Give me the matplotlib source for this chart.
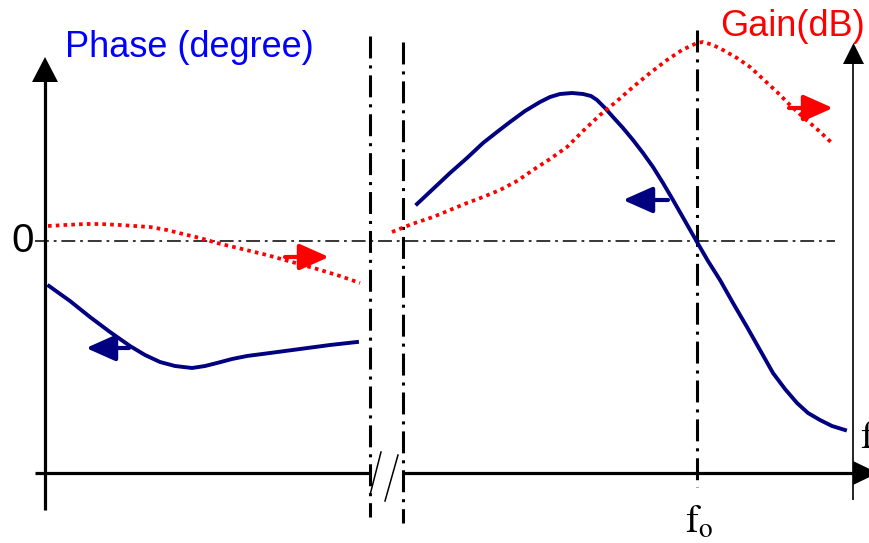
import matplotlib
matplotlib.use("Agg")
import matplotlib.pyplot as plt

plt.rcParams['lines.scale_dashes'] = False
plt.rcParams['mathtext.fontset'] = 'stix'

# pixel-like data units (x right, y down)
phase_left_x = [49, 70, 90, 110, 130, 145, 160, 175, 192, 205, 217, 232, 247,
                270, 300, 330, 357]
phase_left_y = [286, 301, 317, 332, 346, 355, 362, 366, 368, 366, 363, 359, 356,
                353, 349, 345, 342]
phase_right_x = [417, 433, 450, 467, 483, 497, 510, 525, 540, 550, 560, 572, 583,
                 591, 597, 605, 613, 623, 633, 643, 653, 663, 673, 685, 697, 708,
                 720, 733, 747, 760, 773, 785, 797, 808, 820, 832, 845]
phase_right_y = [204, 189, 173, 158, 143, 132, 122, 111, 102, 97, 94, 93, 94,
                 96, 100, 108, 117, 128, 140, 153, 167, 183, 200, 221, 242, 261,
                 280, 303, 327, 350, 373, 389, 403, 413, 420, 426, 430]
gain_left_x = [48, 65, 85, 100, 120, 150, 167, 183, 200, 217, 242, 267, 292,
               317, 340, 360]
gain_left_y = [226, 225, 224, 224, 225, 227, 230, 234, 238, 243, 249, 255, 262,
               269, 276, 283]
gain_right_x = [392, 412, 433, 450, 467, 483, 500, 517, 533, 550, 567, 583, 600,
                617, 633, 650, 667, 682, 697, 703, 713, 723, 737, 750, 763, 777,
                790, 803, 818, 833]
gain_right_y = [232, 224, 217, 210, 203, 197, 190, 181, 170, 159, 147, 131, 115,
                101, 87, 73, 60, 50, 43, 42, 45, 50, 58, 67, 79, 92,
                105, 117, 130, 144]

navy = '#000080'
red = '#ff0000'

fig = plt.figure(figsize=(8.69, 5.43), dpi=100)
ax = fig.add_axes([0, 0, 1, 1])
ax.set_xlim(0, 869)
ax.set_ylim(543, 0)
ax.axis('off')

# axes lines
ax.plot([45, 45], [510, 80], color='black', lw=2.3, solid_capstyle='butt')
ax.fill([32, 58, 45], [82, 82, 57], color='black', lw=0)
ax.plot([35, 369], [473, 473], color='black', lw=2.3, solid_capstyle='butt')
ax.plot([403, 855], [473, 473], color='black', lw=2.3, solid_capstyle='butt')
ax.fill([853, 853, 878], [461, 485, 473], color='black', lw=0)
ax.plot([853, 853], [500, 60], color='black', lw=1.2, solid_capstyle='butt')
ax.fill([843, 864, 853.5], [64, 64, 43], color='black', lw=0)

# break mark
ax.plot([381, 370], [452, 495], color='black', lw=1.1)
ax.plot([398, 385], [455, 501], color='black', lw=1.1)

# dash-dot guides
dd_thick = (0, (15.8, 5, 2.2, 5))
ax.plot([370, 370], [36, 517], color='black', lw=2.2, ls=dd_thick)
ax.plot([403, 403], [42, 523], color='black', lw=2.2, ls=dd_thick)
ax.plot([697, 697], [30, 487], color='black', lw=2.2, ls=dd_thick)
ax.plot([35, 835], [241, 241], color='black', lw=1.1, ls=(0, (10, 3.5, 2, 3.5)))

# curves
ax.plot(phase_left_x, phase_left_y, color=navy, lw=2.8, solid_joinstyle='round')
ax.plot(phase_right_x, phase_right_y, color=navy, lw=2.8, solid_joinstyle='round')
dots = (0, (2.6, 3))
ax.plot(gain_left_x, gain_left_y, color=red, lw=2.7, ls=dots)
ax.plot(gain_right_x, gain_right_y, color=red, lw=2.7, ls=dots)

# direction arrows
def arrow(x0, x1, y, color):
    ax.annotate('', xy=(x1, y), xytext=(x0, y),
                arrowprops=dict(arrowstyle='-|>,head_length=1.8,head_width=0.8',
                                color=color, lw=3, shrinkA=0, shrinkB=0))

arrow(285, 329, 257, red)
arrow(789, 833, 108, red)
arrow(129, 86, 348, navy)
arrow(668, 623, 200, navy)

# labels
ax.text(65, 57, 'Phase (degree)', color='#0000ff', fontsize=26,
        family='Liberation Sans', va='baseline', ha='left')
ax.text(865, 36, 'Gain(dB)', color=red, fontsize=26,
        family='Liberation Sans', va='baseline', ha='right')
ax.text(34, 241, '0', color='black', fontsize=29,
        family='Liberation Sans', va='center', ha='right')
ax.text(699, 533, r'$\mathrm{f}_\mathrm{o}$', color='black', fontsize=28,
        va='baseline', ha='center')
ax.text(860, 448, r'$\mathrm{f}$', color='black', fontsize=28,
        va='baseline', ha='left')

fig.savefig('out.png', dpi=100)
